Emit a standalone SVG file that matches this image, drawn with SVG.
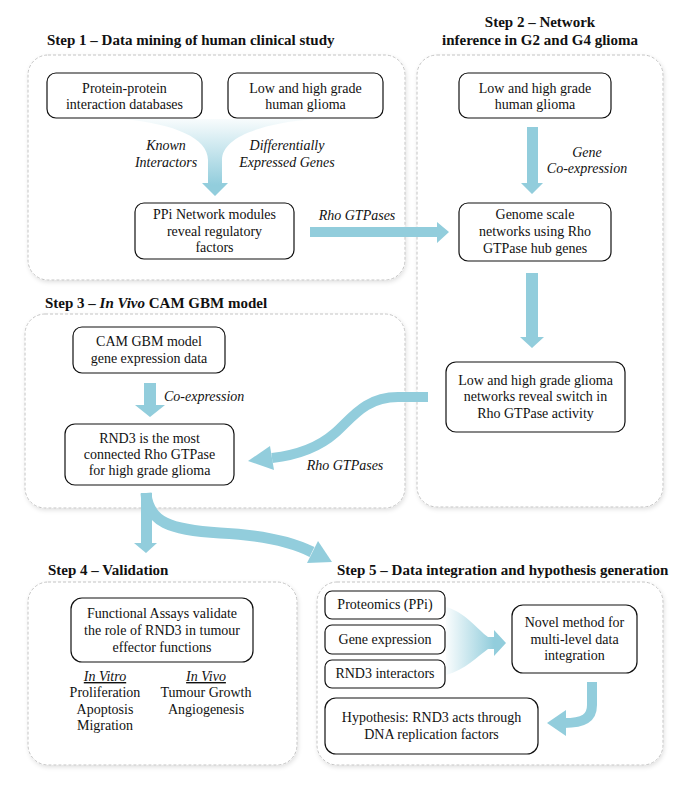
<svg xmlns="http://www.w3.org/2000/svg" width="694" height="800" viewBox="0 0 694 800">
<defs>
<style>
text{font-family:"Liberation Serif","Times New Roman",serif;fill:#111;}
.t{font-size:14px;text-anchor:middle;}
.i{font-size:14px;font-style:italic;text-anchor:middle;}
.is{font-size:14px;font-style:italic;text-anchor:start;}
.h{font-size:15px;font-weight:bold;}
.hc{font-size:15px;font-weight:bold;text-anchor:middle;}
.panel{fill:#fff;stroke:#c4c4c4;stroke-width:1;stroke-dasharray:3 2;filter:url(#sh);}
.box{fill:#fff;stroke:#111;stroke-width:1.2;}
.ar{fill:#92CDDC;}
.band{fill:none;stroke:#92CDDC;}
</style>
<filter id="sh" x="-5%" y="-5%" width="110%" height="110%">
<feDropShadow dx="1" dy="2" stdDeviation="2" flood-color="#000" flood-opacity="0.12"/>
</filter>
<linearGradient id="gv" x1="0" y1="118" x2="0" y2="185" gradientUnits="userSpaceOnUse">
<stop offset="0" stop-color="#92CDDC" stop-opacity="0.05"/>
<stop offset="1" stop-color="#92CDDC" stop-opacity="1"/>
</linearGradient>
<linearGradient id="gh" x1="446" y1="0" x2="494" y2="0" gradientUnits="userSpaceOnUse">
<stop offset="0" stop-color="#92CDDC" stop-opacity="0.05"/>
<stop offset="1" stop-color="#92CDDC" stop-opacity="1"/>
</linearGradient>
</defs>
<rect width="694" height="800" fill="#fff"/>

<g id="panels">
<rect id="panel1" class="panel" x="28" y="55" width="377" height="225" rx="20"/>
<rect id="panel2" class="panel" x="417" y="55" width="246" height="452" rx="20"/>
<rect id="panel3" class="panel" x="25" y="314" width="380" height="194" rx="20"/>
<rect id="panel4" class="panel" x="28" y="582" width="269" height="183" rx="20"/>
<rect id="panel5" class="panel" x="317" y="582" width="346" height="183" rx="20"/>
</g>

<g id="titles">
<text class="h" x="47" y="45">Step 1 – Data mining of human clinical study</text>
<text class="hc" x="540" y="27">Step 2 – Network</text>
<text class="hc" x="540" y="45">inference in G2 and G4 glioma</text>
<text class="h" x="45" y="308">Step 3 – <tspan font-style="italic">In Vivo</tspan> CAM GBM model</text>
<text class="h" x="48" y="575">Step 4 – Validation</text>
<text class="h" x="337" y="575">Step 5 – Data integration and hypothesis generation</text>
</g>

<g id="connectors">
<path fill="url(#gv)" d="M123,119 C175,124 208,138 208,160 L208,183 L202,183 L215,196 L228,183 L222,183 L222,160 C222,138 258,124 313,119 Z"/>
<path class="ar" d="M310,227 L437,227 L437,222 L449,232 L437,243 L437,237 L310,237 Z"/>
<path class="ar" d="M527,127 L538,127 L538,183 L543,183 L532,194 L521,183 L527,183 Z"/>
<path class="ar" d="M526,273 L538,273 L538,337 L544,337 L532,348 L520,337 L526,337 Z"/>
<path class="band" stroke-width="10" d="M428,397 L398,397 C365,397 352,418 335,433 C318,448 298,455 272,458"/>
<path class="ar" d="M270,446 L248,461 L274,470 Z"/>
<path class="ar" d="M144,383 L156,383 L156,405 L165,405 L150,417 L135,405 L144,405 Z"/>
<path class="ar" d="M141,493 L152,493 L152,543 L157,543 L146,553 L134,543 L141,543 Z"/>
<path class="band" stroke-width="11" d="M146,493 C148,522 170,530 220,533 C262,535 292,542 312,552"/>
<path class="ar" d="M318,541 L332,562 L307,563 Z"/>
<path fill="url(#gh)" d="M446,607 C465,612 478,630 488,637 L494,637 L494,630 L506,643 L494,656 L494,649 L488,649 C478,656 465,670 446,675 Z"/>
<path class="band" stroke-width="10" d="M592,682 L592,705 C592,718 584,723 564,723"/>
<path class="ar" d="M566,710 L547,723 L566,736 Z"/>
</g>

<g id="labels">
<text class="i" x="166" y="150">Known</text>
<text class="i" x="166" y="167">Interactors</text>
<text class="i" x="287" y="150">Differentially</text>
<text class="i" x="287" y="167">Expressed Genes</text>
<text class="i" x="357" y="220">Rho GTPases</text>
<text class="i" x="587" y="157">Gene</text>
<text class="i" x="587" y="173">Co-expression</text>
<text class="is" x="164" y="401">Co-expression</text>
<text class="i" x="345" y="470">Rho GTPases</text>
</g>

<g id="n-ppi-db">
<rect class="box" x="47" y="73" width="155" height="45" rx="9"/>
<text class="t" x="124.5" y="93">Protein-protein</text>
<text class="t" x="124.5" y="109">interaction databases</text>
</g>
<g id="n-glioma1">
<rect class="box" x="228" y="73" width="155" height="45" rx="9"/>
<text class="t" x="305.5" y="93">Low and high grade</text>
<text class="t" x="305.5" y="109">human glioma</text>
</g>
<g id="n-ppi-modules">
<rect class="box" x="135" y="203" width="159" height="56" rx="9"/>
<text class="t" x="214.5" y="219">PPi Network modules</text>
<text class="t" x="214.5" y="236">reveal regulatory</text>
<text class="t" x="214.5" y="252">factors</text>
</g>
<g id="n-glioma2">
<rect class="box" x="459" y="73" width="152" height="45" rx="9"/>
<text class="t" x="535" y="93">Low and high grade</text>
<text class="t" x="535" y="109">human glioma</text>
</g>
<g id="n-genome">
<rect class="box" x="459" y="203" width="152" height="58" rx="9"/>
<text class="t" x="535" y="219">Genome scale</text>
<text class="t" x="535" y="236">networks using Rho</text>
<text class="t" x="535" y="253">GTPase hub genes</text>
</g>
<g id="n-switch">
<rect class="box" x="446" y="362" width="179" height="70" rx="10"/>
<text class="t" x="535.5" y="385">Low and high grade glioma</text>
<text class="t" x="535.5" y="401">networks reveal switch in</text>
<text class="t" x="535.5" y="418">Rho GTPase activity</text>
</g>
<g id="n-cam">
<rect class="box" x="73" y="327" width="152" height="46" rx="9"/>
<text class="t" x="149" y="346">CAM GBM model</text>
<text class="t" x="149" y="363">gene expression data</text>
</g>
<g id="n-rnd3">
<rect class="box" x="65" y="424" width="169" height="61" rx="10"/>
<text class="t" x="149.5" y="443">RND3 is the most</text>
<text class="t" x="149.5" y="459">connected Rho GTPase</text>
<text class="t" x="149.5" y="475">for high grade glioma</text>
</g>
<g id="n-functional">
<rect class="box" x="71" y="598" width="182" height="64" rx="11"/>
<text class="t" x="162" y="618">Functional Assays validate</text>
<text class="t" x="162" y="635">the role of RND3 in tumour</text>
<text class="t" x="162" y="652">effector functions</text>
</g>
<g id="n-invitro">
<text class="i" x="105" y="681" text-decoration="underline">In Vitro</text>
<text class="t" x="105" y="697">Proliferation</text>
<text class="t" x="105" y="714">Apoptosis</text>
<text class="t" x="105" y="730">Migration</text>
</g>
<g id="n-invivo">
<text class="i" x="206" y="681" text-decoration="underline">In Vivo</text>
<text class="t" x="206" y="697">Tumour Growth</text>
<text class="t" x="206" y="714">Angiogenesis</text>
</g>
<g id="n-proteomics">
<rect class="box" x="325" y="591" width="120" height="28" rx="7"/>
<text class="t" x="385" y="609">Proteomics (PPi)</text>
</g>
<g id="n-geneexp">
<rect class="box" x="325" y="625" width="120" height="29" rx="7"/>
<text class="t" x="385" y="644">Gene expression</text>
</g>
<g id="n-rnd3int">
<rect class="box" x="325" y="660" width="120" height="28" rx="7"/>
<text class="t" x="385" y="678">RND3 interactors</text>
</g>
<g id="n-novel">
<rect class="box" x="512" y="605" width="125" height="68" rx="11"/>
<text class="t" x="574.5" y="627">Novel method for</text>
<text class="t" x="574.5" y="644">multi-level data</text>
<text class="t" x="574.5" y="660">integration</text>
</g>
<g id="n-hypothesis">
<rect class="box" x="325" y="698" width="213" height="56" rx="11"/>
<text class="t" x="431.5" y="722">Hypothesis: RND3 acts through</text>
<text class="t" x="431.5" y="739">DNA replication factors</text>
</g>
</svg>
